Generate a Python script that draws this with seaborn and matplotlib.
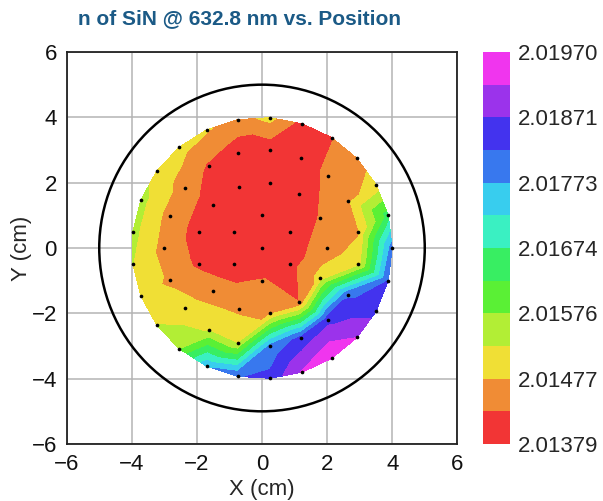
import numpy as np
import matplotlib
matplotlib.use("Agg")
import matplotlib.pyplot as plt
import matplotlib.tri as mtri
from matplotlib.colors import ListedColormap, BoundaryNorm
from matplotlib.patches import Circle
import seaborn as sns

sns.set_style("white")
plt.rcParams["font.family"] = ["Liberation Sans", "DejaVu Sans"]

# measurement sites (cm): centre, then rings r=1, 2, 3, 4
x_pos = [0.00,
         0.87, 0.00, -0.87, -0.87, 0.00, 0.87,
         2.00, 1.77, 1.14, 0.24, -0.71, -1.50, -1.94, -1.94, -1.50, -0.71, 0.24, 1.14, 1.77,
         2.96, 2.64, 2.03, 1.21, 0.25, -0.74, -1.64, -2.37, -2.84, -3.00, -2.84, -2.37,
         -1.64, -0.74, 0.25, 1.21, 2.03, 2.64, 2.96,
         4.00, 3.88, 3.51, 2.92, 2.14, 1.24, 0.25, -0.75, -1.70, -2.55, -3.24, -3.72, -3.97,
         -3.97, -3.72, -3.24, -2.55, -1.70, -0.75, 0.25, 1.24, 2.14, 2.92, 3.51, 3.88]
y_pos = [0.00,
         0.50, 1.00, 0.50, -0.50, -1.00, -0.50,
         0.00, 0.93, 1.65, 1.99, 1.87, 1.33, 0.48, -0.48, -1.33, -1.87, -1.99, -1.65, -0.93,
         0.49, 1.43, 2.21, 2.75, 2.99, 2.91, 2.51, 1.84, 0.97, 0.00, -0.97, -1.84,
         -2.51, -2.91, -2.99, -2.75, -2.21, -1.43, -0.49,
         0.00, 1.00, 1.93, 2.74, 3.38, 3.80, 3.99, 3.93, 3.62, 3.08, 2.35, 1.47, 0.50,
         -0.50, -1.47, -2.35, -3.08, -3.62, -3.93, -3.99, -3.80, -3.38, -2.74, -1.93, -1.00]
n_vals = [2.013790,
          2.013938, 2.013889, 2.013938, 2.013987, 2.014307, 2.014086,
          2.014578, 2.014307, 2.013987, 2.013938, 2.013938, 2.014036, 2.014086, 2.014184,
          2.014529, 2.014677, 2.014627, 2.014283, 2.014923,
          2.014726, 2.014677, 2.014381, 2.014036, 2.013938, 2.013987, 2.014209, 2.014529,
          2.014578, 2.014578, 2.014677, 2.014972, 2.015218, 2.015218, 2.017829, 2.018370,
          2.018568, 2.018124, 2.015021,
          2.017976, 2.016450, 2.014923, 2.014627, 2.014258, 2.014086, 2.014923, 2.014578,
          2.014824, 2.014972, 2.015120, 2.015415, 2.015415, 2.015268, 2.015021, 2.015268,
          2.015662, 2.017632, 2.018173, 2.018370, 2.019257, 2.019699, 2.019207, 2.018518,
          2.018223]

n_min, n_max = 2.01379, 2.01970
cbar_labels = ["2.01379", "2.01477", "2.01576", "2.01674", "2.01773", "2.01871", "2.01970"]
band_colors = ["#f23535", "#f08c35", "#f0df35", "#b2ee35", "#5af035", "#38ee62",
               "#3af0c2", "#38cdee", "#3878ee", "#4333ee", "#9b33eb", "#f035ee"]

levels = np.linspace(n_min, n_max, len(band_colors) + 1)
cmap = ListedColormap(band_colors)
norm = BoundaryNorm(levels, cmap.N)

fig = plt.figure(figsize=(6.03, 5.01), dpi=100)
ax = fig.add_axes([0.1106, 0.1138, 0.6478, 0.7824])
cax = fig.add_axes([0.801, 0.1138, 0.0448, 0.7824])

tri = mtri.Triangulation(x_pos, y_pos)
cs = ax.tricontourf(tri, n_vals, levels=levels, cmap=cmap, norm=norm, zorder=2)

sns.scatterplot(x=x_pos, y=y_pos, ax=ax, color="black", s=7, linewidth=0,
                legend=False, zorder=4)
ax.add_patch(Circle((0, 0), 5, fill=False, edgecolor="black", linewidth=1.8, zorder=3))

ax.set_xlim(-6, 6)
ax.set_ylim(-6, 6)
ax.set_xticks(range(-6, 7, 2))
ax.set_yticks(range(-6, 7, 2))
ax.grid(True, color="#b4b4b4", linewidth=1.1, zorder=0)
ax.set_axisbelow(True)
ax.tick_params(length=0, labelsize=16, pad=7, colors="#111111")
for sp in ax.spines.values():
    sp.set_color("#222222")
    sp.set_linewidth(1.3)
ax.set_xlabel("X (cm)", fontsize=16, labelpad=3)
ax.set_ylabel("Y (cm)", fontsize=16, labelpad=0)

cb = fig.colorbar(cs, cax=cax, ticks=levels[::2])
cb.ax.minorticks_off()
cb.ax.set_yticklabels(cbar_labels)
cb.ax.tick_params(which="both", length=0, labelsize=16, pad=6)
cb.outline.set_visible(False)

fig.text(0.398, 0.962, "n of SiN @ 632.8 nm vs. Position", ha="center", va="center",
         fontsize=15, fontweight="bold", color="#1b5a86")

fig.savefig("out.png", dpi=100)
